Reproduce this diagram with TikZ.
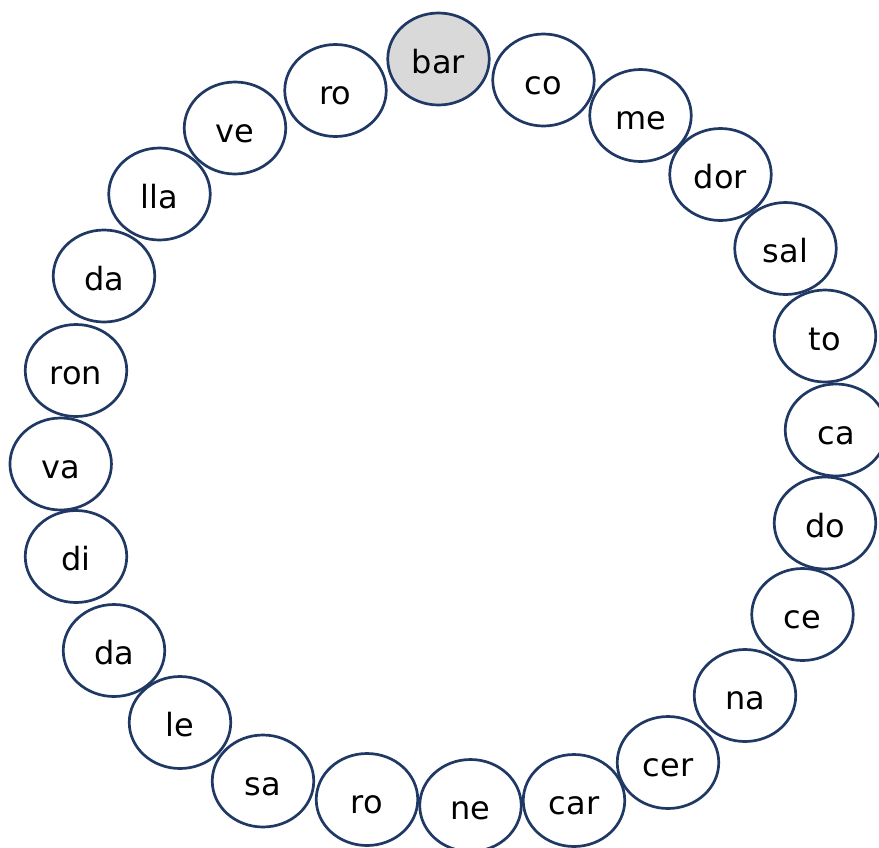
\documentclass[tikz,border=0pt]{standalone}
\usepackage{fontspec}
\setmainfont{DejaVu Sans}
\usetikzlibrary{shapes.geometric}
\definecolor{ringblue}{HTML}{1F3864}
\definecolor{startgray}{HTML}{D9D9D9}
\tikzset{
  syl/.style={ellipse, draw=ringblue, line width=2.7pt, fill=white,
    minimum width=101.5pt, minimum height=92pt, inner sep=0pt,
    font=\fontsize{32}{32}\selectfont, text height=28pt, text depth=0pt},
  startsyl/.style={syl, fill=startgray}
}
\begin{document}
\begin{tikzpicture}[x=1pt,y=-1pt]
\useasboundingbox (0,0) rectangle (879,847);
\node[startsyl] (n1) at (438.5,59) {bar};
\node[syl] (n2) at (543.5,80) {co};
\node[syl] (n3) at (640.5,115.5) {me};
\node[syl] (n4) at (720.5,174.5) {dor};
\node[syl] (n5) at (785.5,248.5) {sal};
\node[syl] (n6) at (825,336) {to};
\node[syl] (n7) at (836,430) {ca};
\node[syl] (n8) at (825,523) {do};
\node[syl] (n9) at (802.5,614.5) {ce};
\node[syl] (n10) at (745,695.5) {na};
\node[syl] (n11) at (668,762.5) {cer};
\node[syl] (n12) at (574,800.5) {car};
\node[syl] (n13) at (470.5,805.5) {ne};
\node[syl] (n14) at (367,799.5) {ro};
\node[syl] (n15) at (263,781) {sa};
\node[syl] (n16) at (180,722.5) {le};
\node[syl] (n17) at (114,650.5) {da};
\node[syl] (n18) at (76,556.5) {di};
\node[syl] (n19) at (60.7,464) {va};
\node[syl] (n20) at (76,370.5) {ron};
\node[syl] (n21) at (104,276) {da};
\node[syl] (n22) at (159.5,194) {lla};
\node[syl] (n23) at (235,128) {ve};
\node[syl] (n24) at (335.5,90.5) {ro};
\end{tikzpicture}
\end{document}
